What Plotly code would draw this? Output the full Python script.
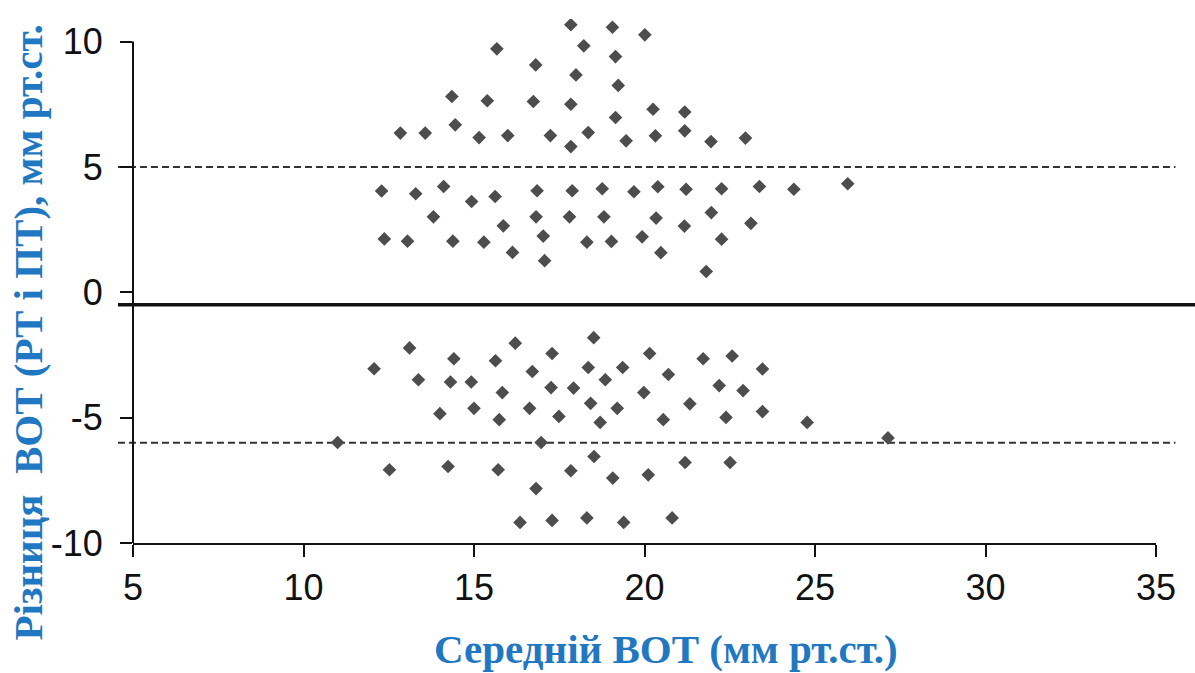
import plotly.graph_objects as go

# Mean BP (x) and difference (y) for each group of points
x_above = [17.84, 19.06, 20.01, 15.67, 18.22, 19.15, 16.81, 17.99, 19.23, 14.35, 15.39, 16.74, 17.84, 20.25, 21.18,
           19.15, 14.45, 12.84, 13.57, 15.15, 15.99, 17.24, 18.35, 17.84, 19.46, 20.32, 21.18, 21.95, 22.96]
y_above = [10.67, 10.57, 10.27, 9.71, 9.83, 9.40, 9.07, 8.67, 8.25, 7.81, 7.64, 7.61, 7.50, 7.30, 7.19,
           6.97, 6.68, 6.35, 6.35, 6.17, 6.25, 6.25, 6.37, 5.81, 6.04, 6.24, 6.44, 6.01, 6.15]

x_pos = [12.29, 13.29, 14.11, 14.93, 15.62, 16.85, 17.88, 18.76, 19.69, 20.39, 21.22, 22.26, 23.37, 24.38, 25.96,
         13.81, 16.82, 17.80, 18.81, 20.34, 21.17, 21.96, 23.12, 15.86, 12.37, 13.05, 14.38, 15.29, 17.03, 18.31,
         19.03, 19.93, 22.26, 16.13, 17.07, 20.48, 21.81]
y_pos = [4.04, 3.93, 4.22, 3.62, 3.82, 4.05, 4.05, 4.13, 4.01, 4.21, 4.11, 4.13, 4.22, 4.11, 4.33,
         3.01, 3.01, 3.01, 3.01, 2.96, 2.64, 3.18, 2.75, 2.65, 2.13, 2.04, 2.04, 2.00, 2.24, 2.00,
         2.03, 2.21, 2.12, 1.59, 1.26, 1.58, 0.83]

x_neg = [12.07, 13.11, 13.37, 14.41, 14.31, 14.92, 14.00, 15.00, 15.63, 15.83, 15.74, 16.21, 16.71, 16.63, 17.29,
         17.26, 17.49, 17.92, 18.51, 18.35, 18.85, 18.42, 19.20, 18.70, 19.36, 20.15, 20.70, 19.98, 20.55, 21.33,
         21.72, 22.57, 22.19, 22.89, 22.39, 23.46, 23.46, 24.77, 27.14, 11.00, 16.97, 12.52, 14.24, 15.71, 17.84,
         18.52, 19.07, 20.11, 21.19, 22.51, 16.82, 16.35, 17.29, 18.31, 19.39, 20.81]
y_neg = [-3.05, -2.22, -3.49, -2.65, -3.58, -3.58, -4.84, -4.63, -2.73, -4.00, -5.08, -2.03, -3.16, -4.63, -2.44,
         -3.80, -4.95, -3.82, -1.81, -3.00, -3.49, -4.43, -4.63, -5.19, -3.00, -2.44, -3.28, -4.00, -5.08, -4.45,
         -2.65, -2.54, -3.72, -3.92, -4.99, -3.06, -4.76, -5.19, -5.81, -5.99, -5.99, -7.08, -6.95, -7.08, -7.12,
         -6.55, -7.41, -7.28, -6.79, -6.79, -7.83, -9.18, -9.10, -9.00, -9.18, -9.00]

mean_diff = -0.5
loa_upper = 5
loa_lower = -6

x_ticks = [5, 10, 15, 20, 25, 30, 35]
y_ticks = [-10, -5, 0, 5, 10]
x_range = [5, 35]
y_range = [-10, 10.9]
y_axis_span = [-10, 10]

x_title = "Середній ВОТ (мм рт.ст.)"
y_title = "Різниця  ВОТ (РТ і ПТ), мм рт.ст."

xs = x_above + x_pos + x_neg
ys = y_above + y_pos + y_neg

TITLE_BLUE = "#1f78c1"
TICK_FONT = dict(family="Liberation Sans, Arial, sans-serif", size=36, color="#111111")
TITLE_FONT = dict(family="Liberation Serif, Times New Roman, serif", size=41, color=TITLE_BLUE)

fig = go.Figure()
fig.add_trace(go.Scatter(
    x=xs, y=ys, mode="markers",
    marker=dict(symbol="diamond", size=10.5, color="#4d4d4d", line=dict(width=0)),
    showlegend=False, hoverinfo="x+y",
))

# y axis line only spans -10..10
fig.add_shape(type="line", xref="paper", yref="y", x0=0, x1=0, y0=y_axis_span[0], y1=y_axis_span[1],
              line=dict(color="#111111", width=2), layer="above")
# bias (solid) and limits of agreement (dashed)
fig.add_shape(type="line", xref="paper", yref="y", x0=-0.0147, x1=1.06, y0=mean_diff, y1=mean_diff,
              line=dict(color="#111111", width=3.5), layer="above")
for v in (loa_upper, loa_lower):
    fig.add_shape(type="line", xref="paper", yref="y", x0=-0.0147, x1=1.019, y0=v, y1=v,
                  line=dict(color="#333333", width=2, dash="7px,4px"), layer="below")

axis_common = dict(showgrid=False, zeroline=False, linecolor="#111111", linewidth=2,
                   ticks="outside", ticklen=12, tickwidth=2, tickcolor="#111111", tickfont=TICK_FONT)

fig.update_xaxes(range=x_range, tickvals=x_ticks, ticktext=[str(v) for v in x_ticks], showline=True,
                 **axis_common)
fig.update_yaxes(range=y_range, tickvals=y_ticks, ticktext=[str(v) for v in y_ticks], showline=False,
                 ticklabelstandoff=10, **axis_common)

fig.add_annotation(text="<b>" + x_title + "</b>", xref="paper", yref="paper", x=0.521, y=-0.202,
                   xanchor="center", yanchor="middle", showarrow=False, font=TITLE_FONT)
fig.add_annotation(text="<b>" + y_title + "</b>", xref="paper", yref="paper", x=-0.103, y=0.401,
                   xanchor="center", yanchor="middle", showarrow=False, textangle=-90, font=TITLE_FONT)

fig.update_layout(
    width=1195, height=673,
    margin=dict(l=133, r=39, t=19, b=130, pad=0),
    paper_bgcolor="white", plot_bgcolor="white",
)

fig.write_html("out.html")
